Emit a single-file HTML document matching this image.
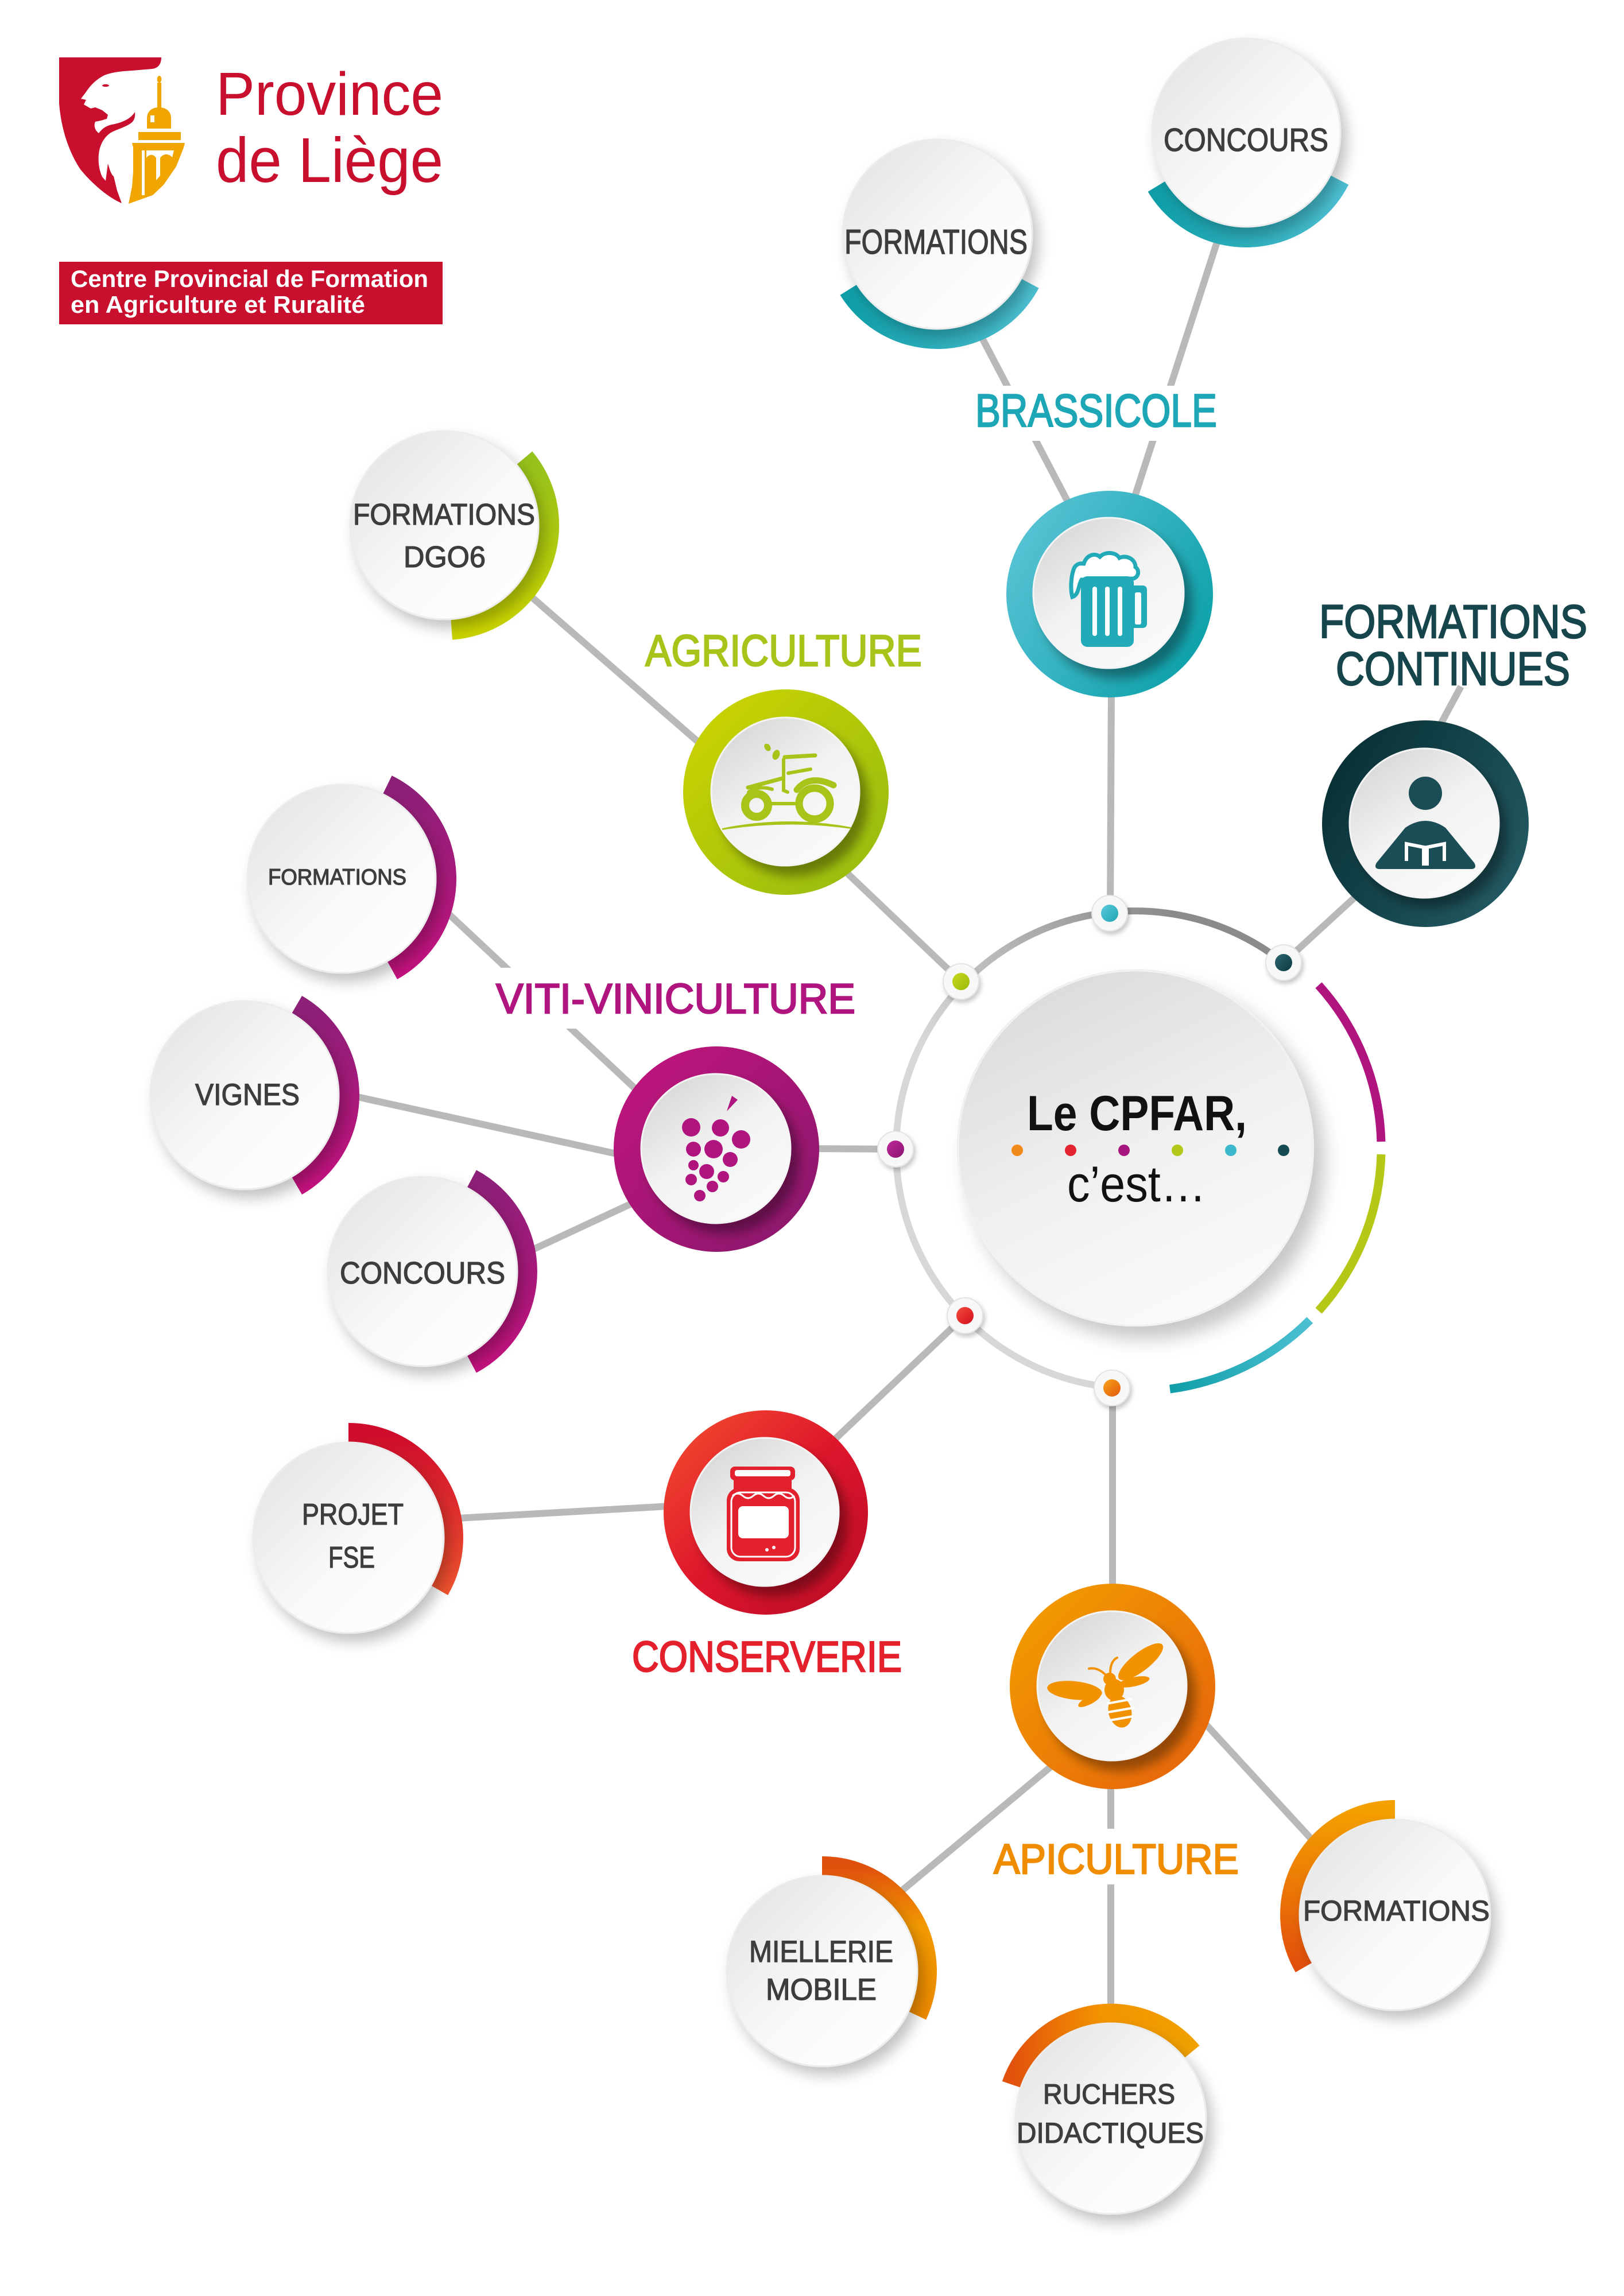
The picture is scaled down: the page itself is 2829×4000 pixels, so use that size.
<!DOCTYPE html>
<html><head><meta charset="utf-8"><style>
html,body{margin:0;padding:0;background:#fff;}
svg{display:block;}
.t{font-family:"Liberation Sans",sans-serif;fill:#3d3d3b;stroke:#3d3d3b;stroke-width:1.3;}
.h{font-family:"Liberation Sans",sans-serif;stroke-width:2.4;}
</style></head><body>
<svg xmlns="http://www.w3.org/2000/svg" width="2829" height="4000" viewBox="0 0 2829 4000">
<defs>
<linearGradient id="gw" x1="0" y1="0" x2="1" y2="1"><stop offset="0" stop-color="#e1e1e1"/><stop offset="0.55" stop-color="#f9f9f9"/><stop offset="1" stop-color="#ffffff"/></linearGradient>
<linearGradient id="gi" x1="0.1" y1="0" x2="0.8" y2="1"><stop offset="0" stop-color="#d4d4d4"/><stop offset="0.5" stop-color="#f2f2f2"/><stop offset="1" stop-color="#fbfbfb"/></linearGradient>
<linearGradient id="gcen" x1="0.2" y1="0" x2="0.7" y2="1"><stop offset="0" stop-color="#d9d9d9"/><stop offset="0.5" stop-color="#efefef"/><stop offset="1" stop-color="#fbfbfb"/></linearGradient>
<linearGradient id="gc" x1="0" y1="0.2" x2="1" y2="0.8"><stop offset="0" stop-color="#5ac4d6"/><stop offset="1" stop-color="#0a9fa8"/></linearGradient>
<linearGradient id="gt" x1="0" y1="0.2" x2="1" y2="0.8"><stop offset="0" stop-color="#062e33"/><stop offset="1" stop-color="#245b64"/></linearGradient>
<linearGradient id="gl" x1="0" y1="0" x2="1" y2="1"><stop offset="0" stop-color="#cfd500"/><stop offset="1" stop-color="#93ba12"/></linearGradient>
<linearGradient id="gm" x1="0" y1="0" x2="1" y2="1"><stop offset="0" stop-color="#c4147f"/><stop offset="1" stop-color="#86186a"/></linearGradient>
<linearGradient id="gr" x1="0" y1="0" x2="1" y2="1"><stop offset="0" stop-color="#f5502e"/><stop offset="0.5" stop-color="#de162c"/><stop offset="1" stop-color="#b80b26"/></linearGradient>
<linearGradient id="go" x1="0" y1="0" x2="1" y2="1"><stop offset="0" stop-color="#f4a000"/><stop offset="1" stop-color="#e5610c"/></linearGradient>
<linearGradient id="acy" x1="0" y1="0" x2="1" y2="0"><stop offset="0" stop-color="#0f9ea7"/><stop offset="1" stop-color="#4cc0d2"/></linearGradient>
<linearGradient id="ama" x1="0" y1="0" x2="0" y2="1"><stop offset="0" stop-color="#8c2078"/><stop offset="1" stop-color="#c4127e"/></linearGradient>
<linearGradient id="ali" x1="0" y1="0" x2="0" y2="1"><stop offset="0" stop-color="#95c11c"/><stop offset="1" stop-color="#cad400"/></linearGradient>
<linearGradient id="are" x1="0" y1="0" x2="0" y2="1"><stop offset="0" stop-color="#cf0c2c"/><stop offset="1" stop-color="#f0532e"/></linearGradient>
<linearGradient id="aom" x1="0" y1="0" x2="0" y2="1"><stop offset="0" stop-color="#e0500d"/><stop offset="0.4" stop-color="#f39a00"/><stop offset="1" stop-color="#ee8a00"/></linearGradient>
<linearGradient id="aor" x1="0" y1="0" x2="1" y2="0"><stop offset="0" stop-color="#e2520d"/><stop offset="0.5" stop-color="#f39400"/><stop offset="1" stop-color="#f0a000"/></linearGradient>
<linearGradient id="aof" x1="0" y1="0" x2="0" y2="1"><stop offset="0" stop-color="#f4a000"/><stop offset="1" stop-color="#e24e0c"/></linearGradient>
<linearGradient id="gring" x1="0.75" y1="0.05" x2="0.3" y2="0.5"><stop offset="0" stop-color="#8b8b8b"/><stop offset="1" stop-color="#d7d7d7"/></linearGradient>
<linearGradient id="dgo" x1="0" y1="0" x2="1" y2="1"><stop offset="0" stop-color="#f7a21b"/><stop offset="1" stop-color="#e2590d"/></linearGradient>
<linearGradient id="dgr" x1="0" y1="0" x2="1" y2="1"><stop offset="0" stop-color="#f44a3a"/><stop offset="1" stop-color="#d2101f"/></linearGradient>
<linearGradient id="dgm" x1="0" y1="0" x2="1" y2="1"><stop offset="0" stop-color="#c0289a"/><stop offset="1" stop-color="#8a1570"/></linearGradient>
<linearGradient id="dgl" x1="0" y1="0" x2="1" y2="1"><stop offset="0" stop-color="#c8d81f"/><stop offset="1" stop-color="#9cba0a"/></linearGradient>
<linearGradient id="dgc" x1="0" y1="0" x2="1" y2="1"><stop offset="0" stop-color="#5ccbdc"/><stop offset="1" stop-color="#1ea3b1"/></linearGradient>
<linearGradient id="dgt" x1="0" y1="0" x2="1" y2="1"><stop offset="0" stop-color="#2d6670"/><stop offset="1" stop-color="#0b3a40"/></linearGradient>
<filter id="fs" x="-30%" y="-30%" width="170%" height="170%"><feDropShadow dx="10" dy="14" stdDeviation="12" flood-color="#000" flood-opacity="0.24"/></filter>
<filter id="fi" x="-30%" y="-30%" width="170%" height="170%"><feDropShadow dx="14" dy="17" stdDeviation="9" flood-color="#000" flood-opacity="0.36"/></filter>
<filter id="fc" x="-30%" y="-30%" width="170%" height="170%"><feDropShadow dx="18" dy="22" stdDeviation="16" flood-color="#000" flood-opacity="0.22"/></filter>
<filter id="fd" x="-50%" y="-50%" width="200%" height="200%"><feDropShadow dx="3" dy="5" stdDeviation="4" flood-color="#000" flood-opacity="0.22"/></filter>
</defs>

<rect x="0" y="0" width="2829" height="4000" fill="#ffffff"/>

<!-- ============ LOGO ============ -->
<path fill="#c8102e" d="M103,100 L281,100 C281,112 275,119 265,120 L230,123 C210,124 195,126 182,131 C168,138 158,148 150,160 L141,172 L150,174 L146,182 L158,189 L166,187 L178,192 L188,200 L186,207 L176,210 L166,212 C163,218 165,227 172,232 C178,224 185,219 195,217 C212,214 228,207 235,195 C236,203 234,209 230,213 C222,220 208,224 195,230 C184,236 176,248 173,262 C170,278 172,295 178,308 L184,315 L188,285 C191,295 194,305 198,307 L204,332 L212,354 C190,345 160,320 140,295 C118,262 106,220 103,180 Z"/>
<ellipse cx="184" cy="149" rx="6" ry="2.2" fill="#c8102e"/>
<g fill="#f0a500">
<ellipse cx="277.5" cy="138" rx="3.8" ry="6"/>
<rect x="274" y="144" width="7" height="44"/>
<path d="M256,224 L256,206 C256,193 266,187 277,187 C288,187 298,193 298,206 L298,224 Z"/>
<rect x="241" y="230" width="74" height="14"/>
<path d="M230,249 L322,249 L320,257 L232,257 Z"/>
<path d="M232,257 L320,257 L307,290 L285,322 L266,340 L224,355 L230,325 L232,300 Z"/>
</g>
<rect x="262" y="201" width="7" height="12" fill="#fff"/>
<rect x="247" y="262" width="5" height="78" fill="#fff"/>
<path fill="#fff" d="M255,262 L303,262 L300,274 C293,267 285,267 279,275 L279,306 L272,314 L272,275 C267,268 260,268 255,275 Z"/>
<text x="376" y="200" font-family="Liberation Sans, sans-serif" font-size="106" fill="#c8102e" textLength="396" lengthAdjust="spacingAndGlyphs">Province</text>
<text x="376" y="317" font-family="Liberation Sans, sans-serif" font-size="110" fill="#c8102e" textLength="396" lengthAdjust="spacingAndGlyphs">de Liège</text>
<rect x="103" y="456" width="668" height="109" fill="#c8102e"/>
<text x="123" y="500" font-family="Liberation Sans, sans-serif" font-weight="bold" font-size="42" fill="#fff" textLength="623" lengthAdjust="spacingAndGlyphs">Centre Provincial de Formation</text>
<text x="123" y="545" font-family="Liberation Sans, sans-serif" font-weight="bold" font-size="42" fill="#fff" textLength="513" lengthAdjust="spacingAndGlyphs">en Agriculture et Ruralité</text>

<!-- ============ CONNECTOR LINES ============ -->
<g stroke="#b9b9b9" stroke-width="12" fill="none" stroke-linecap="butt">
<line x1="1680" y1="530" x2="1870" y2="893"/>
<line x1="2140" y1="360" x2="1972" y2="880"/>
<line x1="1936" y1="1200" x2="1934" y2="1591"/>
<line x1="2545" y1="1196" x2="2505" y2="1270"/>
<line x1="2380" y1="1545" x2="2236" y2="1677"/>
<line x1="880" y1="1000" x2="1250" y2="1322"/>
<line x1="1440" y1="1487" x2="1674" y2="1710"/>
<line x1="760" y1="1572" x2="1140" y2="1928"/>
<line x1="600" y1="1906" x2="1110" y2="2018"/>
<line x1="900" y1="2190" x2="1130" y2="2083"/>
<line x1="1400" y1="2001" x2="1560" y2="2002"/>
<line x1="780" y1="2646" x2="1200" y2="2622"/>
<line x1="1420" y1="2540" x2="1681" y2="2292"/>
<line x1="1938" y1="2418" x2="1938" y2="2770"/>
<line x1="1840" y1="3070" x2="1560" y2="3303"/>
<line x1="1935" y1="3100" x2="1935" y2="3500"/>
<line x1="2095" y1="2998" x2="2290" y2="3210"/>
</g>
<rect x="1690" y="672" width="440" height="96" fill="#fff"/>
<rect x="850" y="1686" width="650" height="106" fill="#fff"/>
<rect x="1720" y="3186" width="450" height="97" fill="#fff"/>

<!-- ============ CENTRAL RING ============ -->
<path d="M2235.3,1676.9 A416,416 0 1 0 1937.1,2417.1" fill="none" stroke="url(#gring)" stroke-width="12"/>
<g fill="none" stroke-width="15">
<path d="M2297,1716.3 A424,424 0 0 1 2405.9,1988.9" stroke="#b0157f"/>
<path d="M2405.9,2011.1 A424,424 0 0 1 2297,2283.7" stroke="#b5c817"/>
<path d="M2281.8,2299.8 A424,424 0 0 1 2038,2419.9" stroke="url(#acy)"/>
</g>
<circle cx="1978" cy="2000" r="311" fill="url(#gcen)" filter="url(#fc)"/>
<circle cx="1978" cy="2000" r="309" fill="none" stroke="#f2f2f2" stroke-width="3"/>
<text x="1789" y="1969" font-family="Liberation Sans, sans-serif" font-weight="bold" font-size="86" fill="#111" textLength="383" lengthAdjust="spacingAndGlyphs">Le CPFAR,</text>
<circle cx="1772" cy="2004" r="10" fill="#f08a1c"/>
<circle cx="1865" cy="2004" r="10" fill="#e3232f"/>
<circle cx="1958" cy="2004" r="10" fill="#a7167f"/>
<circle cx="2051" cy="2004" r="10" fill="#b3c81b"/>
<circle cx="2144" cy="2004" r="10" fill="#3cb6c9"/>
<circle cx="2236" cy="2004" r="10" fill="#164a52"/>
<text x="1859" y="2093" font-family="Liberation Sans, sans-serif" font-size="88" fill="#111" textLength="242" lengthAdjust="spacingAndGlyphs">c’est…</text>

<g filter="url(#fd)" fill="#f8f8f8" stroke="#e3e3e3" stroke-width="2">
<circle cx="1933" cy="1591" r="31"/>
<circle cx="2236" cy="1677" r="31"/>
<circle cx="1674" cy="1710" r="31"/>
<circle cx="1560" cy="2002" r="31"/>
<circle cx="1681" cy="2292" r="31"/>
<circle cx="1937" cy="2418" r="31"/>
</g>
<circle cx="1933" cy="1591" r="15" fill="url(#dgc)"/>
<circle cx="2236" cy="1677" r="15" fill="url(#dgt)"/>
<circle cx="1674" cy="1710" r="15" fill="url(#dgl)"/>
<circle cx="1560" cy="2002" r="15" fill="url(#dgm)"/>
<circle cx="1681" cy="2292" r="15" fill="url(#dgr)"/>
<circle cx="1937" cy="2418" r="15" fill="url(#dgo)"/>

<!-- ============ COLORED ARCS ============ -->
<g fill="none" stroke-width="36">
<path d="M1793.7,493.4 A182,182 0 0 1 1478.7,504.5" stroke="url(#acy)"/>
<path d="M2333.2,313.6 A182,182 0 0 1 2015,324.7" stroke="url(#acy)"/>
<path d="M913.4,798 A182,182 0 0 1 786.7,1096.6" stroke="url(#ali)"/>
<path d="M674.7,1367.4 A182,182 0 0 1 683.3,1690.2" stroke="url(#ama)"/>
<path d="M517,1750.4 A182,182 0 0 1 517,2065.6" stroke="url(#ama)"/>
<path d="M821.4,2054.3 A182,182 0 0 1 821.4,2375.7" stroke="url(#ama)"/>
<path d="M607,2497 A182,182 0 0 1 764.6,2770" stroke="url(#are)"/>
<path d="M1432,3252 A182,182 0 0 1 1596.9,3511" stroke="url(#aom)"/>
<path d="M1762.8,3631.7 A182,182 0 0 1 2075.5,3575.2" stroke="url(#aor)"/>
<path d="M2272.4,3427 A182,182 0 0 1 2430,3154" stroke="url(#aof)"/>
</g>

<!-- ============ WHITE TEXT CIRCLES ============ -->
<g fill="url(#gw)" stroke="#ececec" stroke-width="3" filter="url(#fs)">
<circle cx="1633" cy="408" r="165"/>
<circle cx="2171" cy="231" r="164"/>
<circle cx="774" cy="915" r="164"/>
<circle cx="595" cy="1531" r="164"/>
<circle cx="426" cy="1908" r="164"/>
<circle cx="736" cy="2215" r="165"/>
<circle cx="607" cy="2679" r="166"/>
<circle cx="1432" cy="3434" r="166"/>
<circle cx="1935" cy="3691" r="166"/>
<circle cx="2430" cy="3336" r="166"/>
</g>

<text class="t" x="1471" y="442" font-size="60" textLength="319" lengthAdjust="spacingAndGlyphs">FORMATIONS</text>
<text class="t" x="2027" y="263" font-size="57" textLength="287" lengthAdjust="spacingAndGlyphs">CONCOURS</text>
<text class="t" x="615" y="914" font-size="52" textLength="317" lengthAdjust="spacingAndGlyphs">FORMATIONS</text>
<text class="t" x="703" y="988" font-size="52" textLength="143" lengthAdjust="spacingAndGlyphs">DGO6</text>
<text class="t" x="467" y="1541" font-size="39" textLength="241" lengthAdjust="spacingAndGlyphs">FORMATIONS</text>
<text class="t" x="340" y="1925" font-size="53" textLength="182" lengthAdjust="spacingAndGlyphs">VIGNES</text>
<text class="t" x="592" y="2236" font-size="54" textLength="288" lengthAdjust="spacingAndGlyphs">CONCOURS</text>
<text class="t" x="526" y="2656" font-size="52" textLength="177" lengthAdjust="spacingAndGlyphs">PROJET</text>
<text class="t" x="572" y="2731" font-size="52" textLength="81" lengthAdjust="spacingAndGlyphs">FSE</text>
<text class="t" x="1305" y="3418" font-size="53" textLength="251" lengthAdjust="spacingAndGlyphs">MIELLERIE</text>
<text class="t" x="1334" y="3484" font-size="53" textLength="193" lengthAdjust="spacingAndGlyphs">MOBILE</text>
<text class="t" x="1817" y="3665" font-size="49" textLength="230" lengthAdjust="spacingAndGlyphs">RUCHERS</text>
<text class="t" x="1771" y="3733" font-size="50" textLength="326" lengthAdjust="spacingAndGlyphs">DIDACTIQUES</text>
<text class="t" x="2270" y="3346" font-size="50" textLength="325" lengthAdjust="spacingAndGlyphs">FORMATIONS</text>

<!-- ============ CATEGORY LABELS ============ -->
<text class="h" x="1699" y="743" font-size="81" fill="#1ca6b6" stroke="#1ca6b6" textLength="421" lengthAdjust="spacingAndGlyphs">BRASSICOLE</text>
<text class="h" x="2298" y="1111" font-size="82" fill="#17454c" stroke="#17454c" textLength="467" lengthAdjust="spacingAndGlyphs">FORMATIONS</text>
<text class="h" x="2327" y="1193" font-size="82" fill="#17454c" stroke="#17454c" textLength="408" lengthAdjust="spacingAndGlyphs">CONTINUES</text>
<text class="h" x="1124" y="1160" font-size="77" fill="#a8c41a" stroke="#a8c41a" textLength="482" lengthAdjust="spacingAndGlyphs">AGRICULTURE</text>
<text class="h" x="864" y="1765" font-size="73" fill="#b0157f" stroke="#b0157f" textLength="626" lengthAdjust="spacingAndGlyphs">VITI-VINICULTURE</text>
<text class="h" x="1101" y="2912" font-size="75" fill="#e4202c" stroke="#e4202c" textLength="470" lengthAdjust="spacingAndGlyphs">CONSERVERIE</text>
<text class="h" x="1731" y="3264" font-size="73" fill="#f08c00" stroke="#f08c00" textLength="427" lengthAdjust="spacingAndGlyphs">APICULTURE</text>

<!-- ============ COLORED NODES ============ -->
<circle cx="1933" cy="1035" r="180" fill="url(#gc)"/>
<circle cx="1931" cy="1033" r="131" fill="url(#gi)" stroke="#f4f4f4" stroke-width="3" filter="url(#fi)"/>
<g fill="#22aab8">
<path d="M1868,1040 C1864,1025 1866,1000 1872,988 C1878,980 1884,982 1888,982 C1892,968 1906,962 1916,970 C1926,960 1944,962 1950,972 C1962,966 1978,974 1978,988 C1986,994 1983,1006 1974,1008 L1884,1010 C1878,1020 1880,1036 1868,1040 Z" fill="#fff" stroke="#22aab8" stroke-width="7"/>
<path d="M1972,1020 H1990 Q1998,1020 1998,1028 V1086 Q1998,1094 1990,1094 H1972 Z"/>
<rect x="1883" y="1004" width="92" height="123" rx="11"/>
</g>
<rect x="1977" y="1032" width="11" height="56" rx="3" fill="#fff"/>
<rect x="1903" y="1022" width="8" height="86" rx="4" fill="#fff"/>
<rect x="1925" y="1022" width="8" height="86" rx="4" fill="#fff"/>
<rect x="1947" y="1022" width="8" height="86" rx="4" fill="#fff"/>

<circle cx="2483" cy="1435" r="180" fill="url(#gt)"/>
<circle cx="2481" cy="1434" r="130" fill="url(#gi)" stroke="#f4f4f4" stroke-width="3" filter="url(#fi)"/>
<circle cx="2483" cy="1382" r="29" fill="#1b4d56"/>
<path fill="#1b4d56" d="M2398,1503 L2448,1442 Q2483,1418 2518,1442 L2568,1503 Q2574,1514 2562,1514 L2404,1514 Q2392,1514 2398,1503 Z"/>
<path fill="none" stroke="#fff" stroke-width="6" d="M2450,1500 L2450,1470 L2480,1476 L2480,1508 M2486,1508 L2486,1476 L2516,1470 L2516,1500"/>

<circle cx="1369" cy="1380" r="179" fill="url(#gl)"/>
<circle cx="1368" cy="1379" r="129" fill="url(#gi)" stroke="#f4f4f4" stroke-width="3" filter="url(#fi)"/>
<g fill="none" stroke="#a6c419" stroke-linecap="round">
<circle cx="1318" cy="1403" r="20" stroke-width="14"/>
<circle cx="1419" cy="1400" r="27" stroke-width="13"/>
<path d="M1303,1372 L1363,1356" stroke-width="7"/>
<path d="M1304,1380 Q1320,1368 1345,1375" stroke-width="6"/>
<path d="M1365,1323 L1365,1377 L1372,1380" stroke-width="6"/>
<path d="M1367,1319 L1420,1316" stroke-width="7"/>
<path d="M1373,1347 L1412,1340" stroke-width="6"/>
<path d="M1340,1400 L1385,1400" stroke-width="6"/>
<path d="M1388,1376 Q1410,1348 1452,1368" stroke-width="11"/>
</g>
<ellipse cx="1337" cy="1302" rx="5" ry="7" fill="#a6c419" transform="rotate(-35 1337 1302)"/>
<ellipse cx="1352" cy="1315" rx="6" ry="9" fill="#a6c419" transform="rotate(20 1352 1315)"/>
<path fill="#a6c419" d="M1258,1443 Q1370,1420 1482,1441 L1482,1444 Q1370,1428 1258,1446 Z"/>

<circle cx="1248" cy="2002" r="179" fill="url(#gm)"/>
<circle cx="1247" cy="2001" r="130" fill="url(#gi)" stroke="#f4f4f4" stroke-width="3" filter="url(#fi)"/>
<g fill="#b0157f">
<path d="M1266,1936 L1275,1909 L1285,1916 Z"/>
<circle cx="1204" cy="1964" r="16"/>
<circle cx="1255" cy="1965" r="15"/>
<circle cx="1291" cy="1985" r="16"/>
<circle cx="1208" cy="2002" r="13"/>
<circle cx="1243" cy="2002" r="16"/>
<circle cx="1272" cy="2020" r="13"/>
<circle cx="1208" cy="2030" r="9"/>
<circle cx="1231" cy="2041" r="13"/>
<circle cx="1204" cy="2055" r="10"/>
<circle cx="1260" cy="2050" r="10"/>
<circle cx="1241" cy="2067" r="10"/>
<circle cx="1219" cy="2083" r="10"/>
</g>

<circle cx="1334" cy="2635" r="178" fill="url(#gr)"/>
<circle cx="1332" cy="2634" r="129" fill="url(#gi)" stroke="#f4f4f4" stroke-width="3" filter="url(#fi)"/>
<rect x="1272" y="2555" width="113" height="24" rx="8" fill="#e2202e"/>
<rect x="1280" y="2561" width="97" height="11" rx="4" fill="#fff"/>
<rect x="1278" y="2579" width="101" height="16" fill="#e2202e"/>
<rect x="1266" y="2592" width="127" height="128" rx="22" fill="#e2202e"/>
<rect x="1274" y="2600" width="111" height="112" rx="16" fill="none" stroke="#fff" stroke-width="3"/>
<path d="M1276,2606 Q1285,2598 1294,2606 Q1303,2614 1312,2606 Q1321,2598 1330,2606 Q1339,2614 1348,2606 Q1357,2598 1366,2606 Q1375,2614 1384,2606" fill="none" stroke="#fff" stroke-width="3"/>
<rect x="1286" y="2624" width="88" height="56" rx="8" fill="#fff"/>
<circle cx="1336" cy="2700" r="3" fill="#fff"/>
<circle cx="1348" cy="2696" r="3" fill="#fff"/>

<circle cx="1938" cy="2938" r="179" fill="url(#go)"/>
<circle cx="1937" cy="2937" r="130" fill="url(#gi)" stroke="#f4f4f4" stroke-width="3" filter="url(#fi)"/>
<g fill="#f39200">
<ellipse cx="1872" cy="2945" rx="48" ry="16" transform="rotate(6 1872 2945)"/>
<ellipse cx="1898" cy="2962" rx="22" ry="7" transform="rotate(-28 1898 2962)"/>
<ellipse cx="1987" cy="2895" rx="48" ry="16" transform="rotate(-38 1987 2895)"/>
<ellipse cx="1975" cy="2930" rx="28" ry="8" transform="rotate(-12 1975 2930)"/>
<circle cx="1933" cy="2925" r="11"/>
<ellipse cx="1941" cy="2944" rx="17" ry="19"/>
<ellipse cx="1951" cy="2982" rx="20" ry="28" transform="rotate(-14 1951 2982)"/>
</g>
<g fill="none" stroke="#f39200" stroke-width="4" stroke-linecap="round">
<path d="M1926,2918 Q1912,2904 1897,2907"/>
<path d="M1934,2915 Q1934,2894 1946,2888"/>
</g>
<g stroke="#fff" stroke-width="4">
<line x1="1928" y1="2968" x2="1972" y2="2960"/>
<line x1="1930" y1="2983" x2="1976" y2="2975"/>
<line x1="1934" y1="2997" x2="1974" y2="2990"/>
</g>
</svg>
</body></html>
